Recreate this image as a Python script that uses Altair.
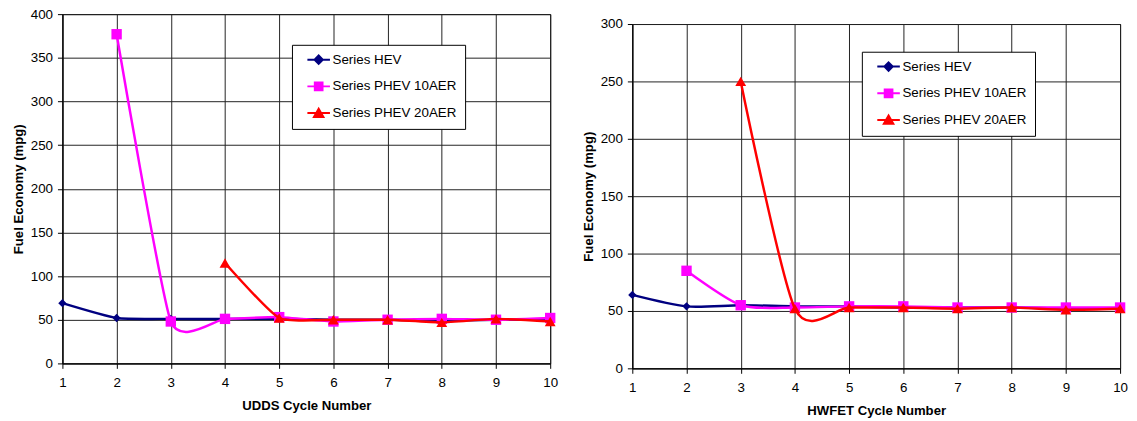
import altair as alt
import pandas as pd

cycles = [1, 2, 3, 4, 5, 6, 7, 8, 9, 10]
series_names = ["Series HEV", "Series PHEV 10AER", "Series PHEV 20AER"]
series_colors = ["#000080", "#FF00FF", "#FF0000"]

udds_hev = [69, 52, 51, 51, 51, 50, 50, 49, 50, 50]
udds_phev10 = [None, 377, 48, 51, 53, 48, 50, 51, 50, 52]
udds_phev20 = [None, None, None, 115, 52, 50, 50, 47, 51, 48]

hwfet_hev = [64, 54, 55, 54, 54, 53, 53, 53, 52, 52]
hwfet_phev10 = [None, 85, 55, 53, 54, 54, 53, 53, 53, 53]
hwfet_phev20 = [None, None, 250, 52, 53, 53, 52, 53, 51, 52]

y_ticks_udds = [0, 50, 100, 150, 200, 250, 300, 350, 400]
y_ticks_hwfet = [0, 50, 100, 150, 200, 250, 300]

FONT = "Liberation Sans"
point_shapes = ["diamond", "square", "triangle-up"]
point_sizes = [70, 110, 120]
legend_paths = [
    "M-1.9,0L1.9,0M0,-0.7L0.7,0L0,0.7L-0.7,0Z",
    "M-1.9,0L1.9,0M-0.65,-0.65L0.65,-0.65L0.65,0.65L-0.65,0.65Z",
    "M-1.9,0L1.9,0M0,-0.75L0.8,0.65L-0.8,0.65Z",
]


def make_panel(hev, p10, p20, y_ticks, xtitle, tension, w, h, lx, ly):
    rows = []
    for name, vals in zip(series_names, [hev, p10, p20]):
        for c, v in zip(cycles, vals):
            if v is not None:
                rows.append({"cycle": c, "mpg": v, "series": name})
    df = pd.DataFrame(rows)

    x = alt.X(
        "cycle:Q",
        scale=alt.Scale(domain=[1, 10], nice=False, zero=False),
        axis=alt.Axis(values=cycles, title=xtitle, labelFlush=False,
                      labelPadding=7, titlePadding=10),
    )
    y = alt.Y(
        "mpg:Q",
        scale=alt.Scale(domain=[y_ticks[0], y_ticks[-1]], nice=False),
        axis=alt.Axis(values=y_ticks, title="Fuel Economy (mpg)",
                      labelPadding=5, titlePadding=5),
    )

    layers = []
    for name, col, shp, sz in zip(series_names, series_colors, point_shapes, point_sizes):
        base = alt.Chart().transform_filter(alt.datum.series == name)
        layers.append(
            base.mark_line(interpolate="cardinal", tension=tension, strokeWidth=2.5, color=col)
            .encode(x=x, y=y)
        )
        layers.append(
            base.mark_point(shape=shp, size=sz, filled=True, opacity=1, color=col)
            .encode(x=x, y=y)
        )

    leg = dict(
        title=None, orient="none", legendX=lx, legendY=ly,
        symbolSize=144, symbolStrokeWidth=2, rowPadding=10, padding=8,
        symbolOffset=12, labelOffset=7,
        labelFont=FONT, labelFontSize=13.5, labelColor="black",
        strokeColor="black", fillColor="white", cornerRadius=0,
        labelExpr="datum.label + '    '",
    )
    legend_layer = (
        alt.Chart()
        .transform_filter("false")
        .mark_point(filled=True, opacity=1)
        .encode(
            x=x, y=y,
            fill=alt.Fill("series:N", scale=alt.Scale(domain=series_names, range=series_colors),
                          legend=alt.Legend(**leg)),
            stroke=alt.Stroke("series:N", scale=alt.Scale(domain=series_names, range=series_colors),
                              legend=alt.Legend(**leg)),
            shape=alt.Shape("series:N", scale=alt.Scale(domain=series_names, range=legend_paths),
                            legend=alt.Legend(**leg)),
        )
    )
    layers.append(legend_layer)
    return alt.layer(*layers, data=df).properties(width=w, height=h)


left = make_panel(udds_hev, udds_phev10, udds_phev20, y_ticks_udds,
                  "UDDS Cycle Number", 0.48, 493, 353, 232, 31)
right = make_panel(hwfet_hev, hwfet_phev10, hwfet_phev20, y_ticks_hwfet,
                   "HWFET Cycle Number", 0.25, 493, 348, 232, 38)

spacer = (
    alt.Chart(pd.DataFrame({"v": [0]}))
    .mark_point(opacity=0, size=0)
    .encode(x=alt.X("v:Q", axis=None), y=alt.Y("v:Q", axis=None))
    .properties(width=10, height=1, view=alt.ViewBackground(stroke="transparent"))
)

chart = (
    alt.hconcat(left, alt.vconcat(spacer, right, spacing=0), spacing=21)
    .resolve_scale(fill="independent", stroke="independent", shape="independent")
    .resolve_legend(fill="independent", stroke="independent", shape="independent")
    .properties(padding={"left": 2, "top": -4, "right": 0, "bottom": 0},
                background="white")
    .configure_view(stroke="black", strokeWidth=1)
    .configure_axis(
        labelFont=FONT, labelFontSize=13.5, labelColor="black",
        titleFont=FONT, titleFontSize=13.3, titleFontWeight="bold", titleColor="black",
        gridColor="#222222", gridWidth=1, gridOpacity=1,
        domainColor="black", domainWidth=1, tickColor="black", tickSize=5,
    )
)

chart.save("out.html", embed_options={"renderer": "svg", "actions": False})
